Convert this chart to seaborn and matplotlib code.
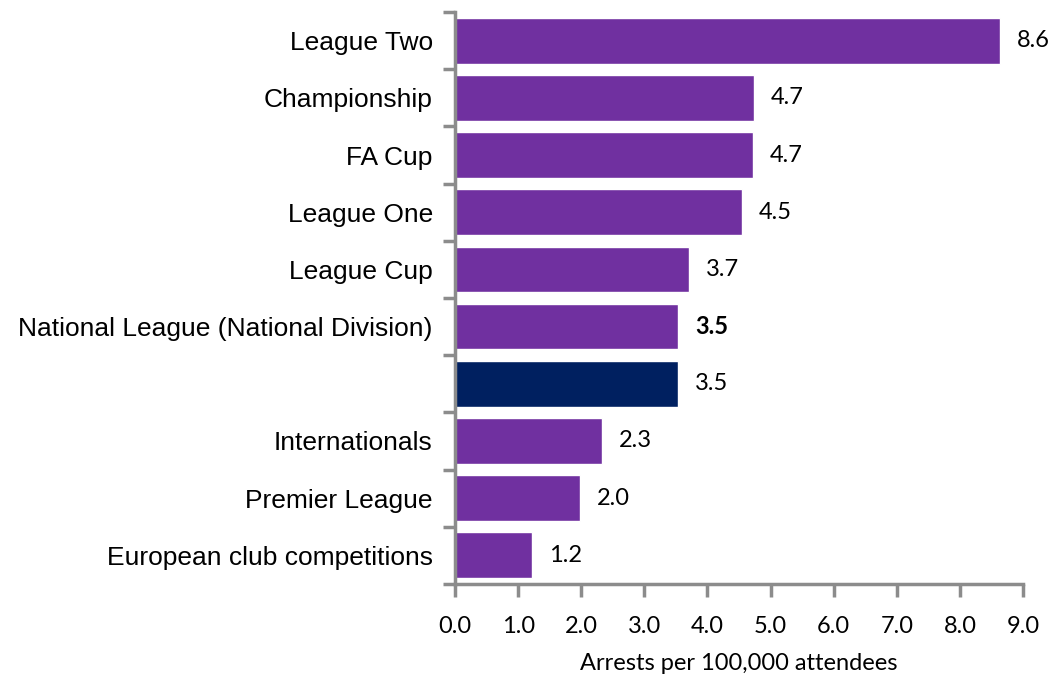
import matplotlib
matplotlib.use("Agg")
import matplotlib.pyplot as plt
import seaborn as sns
import pandas as pd
import numpy as np
from matplotlib.ticker import FixedLocator

categories = ["League Two", "Championship", "FA Cup", "League One", "League Cup",
              "National League (National Division)", "", "Internationals",
              "Premier League", "European club competitions"]
values = [8.64, 4.74, 4.72, 4.54, 3.70, 3.54, 3.53, 2.33, 1.98, 1.22]
bold_flags = [False, False, False, False, False, True, False, False, False, False]
x_ticks = [0.0, 1.0, 2.0, 3.0, 4.0, 5.0, 6.0, 7.0, 8.0, 9.0]
x_label = "Arrests per 100,000 attendees"

purple = "#7030A0"
navy = "#002060"
colors = [navy if c == "" else purple for c in categories]

df = pd.DataFrame({"cat": [c if c else " " for c in categories], "val": values})

sns.set_theme(style="white")
plt.rcParams["font.family"] = ["Liberation Sans", "DejaVu Sans"]
plt.rcParams["text.color"] = "black"
plt.rcParams["axes.labelcolor"] = "black"
plt.rcParams["xtick.labelcolor"] = "black"
plt.rcParams["ytick.labelcolor"] = "black"

fig = plt.figure(figsize=(10.59, 6.75), dpi=100)
ax = fig.add_axes([0.4297, 0.135, 0.966 - 0.4297, 0.982 - 0.135])

sns.barplot(data=df, y="cat", x="val", hue="cat", palette=colors, legend=False,
            orient="h", width=0.8, ax=ax, saturation=1)

ax.set_xlim(0, 9.0)
ax.set_ylim(len(categories) - 0.5, -0.5)
ax.set_xticks(x_ticks)
ax.set_xticklabels([f"{t:.1f}" for t in x_ticks], fontfamily="Lato", fontsize=17, color="black")
ax.set_yticks(range(len(categories)))
ax.set_yticklabels(categories, fontsize=19, color="black")
ax.set_xlabel(x_label, fontfamily="Lato", fontsize=17, labelpad=12, color="black")
ax.set_ylabel("")

spine_c = "#8c8c8c"
for s in ["top", "right"]:
    ax.spines[s].set_visible(False)
for s in ["left", "bottom"]:
    ax.spines[s].set_color(spine_c)
    ax.spines[s].set_linewidth(2.5)

ax.yaxis.set_minor_locator(FixedLocator(np.arange(-0.5, len(categories), 1.0)))
ax.tick_params(axis="y", which="major", length=0, pad=16)
ax.tick_params(axis="y", which="minor", length=9, width=2.5, color=spine_c, direction="out", left=True)
ax.tick_params(axis="x", which="major", length=9, width=2.5, color=spine_c, direction="out", bottom=True, pad=14)

for i, (v, b) in enumerate(zip(values, bold_flags)):
    ax.text(v + 0.27, i, f"{v:.1f}", va="center", ha="left", fontfamily="Lato",
            fontsize=17, fontweight="bold" if b else "normal", color="black")

fig.savefig("out.png", dpi=100)
